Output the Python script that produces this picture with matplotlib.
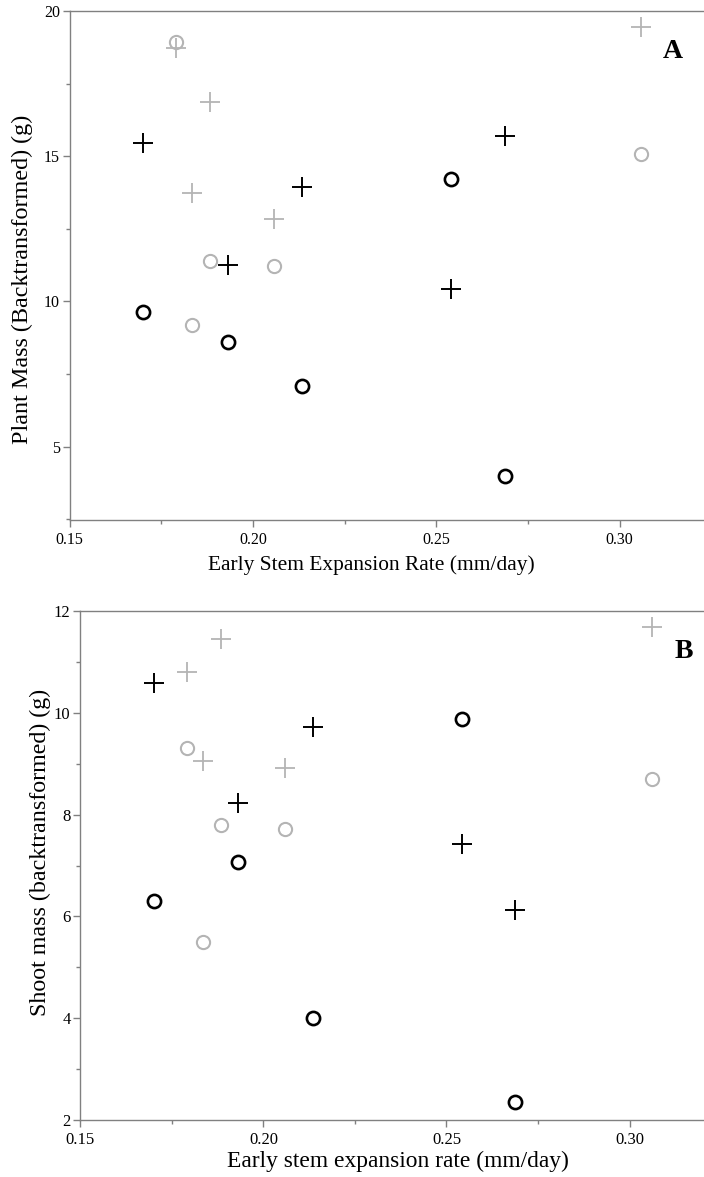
import matplotlib
matplotlib.use("Agg")
import matplotlib.pyplot as plt
from matplotlib.ticker import MultipleLocator

plt.rcParams['font.family'] = ['Liberation Serif', 'DejaVu Serif']

# Panel A data
a_black_x = [0.170, 0.1931, 0.2135, 0.254, 0.2688]
a_black_plus_y = [15.44, 11.24, 13.94, 10.43, 15.69]
a_black_circle_y = [9.63, 8.61, 7.10, 14.2, 3.97]
a_grey_x = [0.179, 0.1834, 0.1884, 0.2057, 0.3058]
a_grey_plus_y = [18.73, 13.73, 16.87, 12.82, 19.44]
a_grey_circle_y = [18.92, 9.17, 11.38, 11.21, 15.07]

# Panel B data
b_black_x = [0.170, 0.1932, 0.2136, 0.2542, 0.2688]
b_black_plus_y = [10.59, 8.22, 9.73, 7.42, 6.12]
b_black_circle_y = [6.31, 7.06, 4.00, 9.87, 2.35]
b_grey_x = [0.1792, 0.1834, 0.1884, 0.206, 0.306]
b_grey_plus_y = [10.80, 9.06, 11.45, 8.91, 11.68]
b_grey_circle_y = [9.30, 5.49, 7.80, 7.72, 8.70]

a_yticks = [5, 10, 15, 20]
b_yticks = [2, 4, 6, 8, 10, 12]
xticks = [0.15, 0.20, 0.25, 0.30]
xtick_labels = ["0.15", "0.20", "0.25", "0.30"]

W, H = 704, 1177
fig = plt.figure(figsize=(W / 100, H / 100), dpi=100)

GREY = "#b4b4b4"
SPINE = "#808080"


def style(ax, xlim, ylim, yticks, ymin_step, lsize):
    ax.set_xlim(*xlim)
    ax.set_ylim(*ylim)
    ax.set_xticks(xticks)
    ax.set_xticklabels(xtick_labels)
    ax.xaxis.set_minor_locator(MultipleLocator(0.025))
    ax.set_yticks(yticks)
    ax.yaxis.set_minor_locator(MultipleLocator(ymin_step))
    for s in ['left', 'bottom', 'top']:
        ax.spines[s].set_color(SPINE)
        ax.spines[s].set_linewidth(1.0)
    ax.spines['right'].set_visible(False)
    ax.tick_params(which='both', direction='out', color=SPINE, width=1.0,
                   labelsize=lsize, pad=2, top=False, right=False)
    ax.tick_params(axis='x', which='major', pad=4)
    ax.tick_params(which='major', length=5)
    ax.tick_params(which='minor', length=3)


def draw(ax, bx, bpy, bcy, gx, gpy, gcy):
    ax.plot(gx, gpy, linestyle='none', marker='+', ms=14.5, mew=1.3, color=GREY, clip_on=False)
    ax.plot(gx, gcy, linestyle='none', marker='o', ms=9.5, mew=1.5, mfc='none', mec=GREY, clip_on=False)
    ax.plot(bx, bpy, linestyle='none', marker='+', ms=14.5, mew=1.4, color='black', clip_on=False)
    ax.plot(bx, bcy, linestyle='none', marker='o', ms=9.5, mew=1.9, mfc='none', mec='black', clip_on=False)


def labels(ax, xl, yl, xsize, ysize, xpos, ypos):
    ax.set_xlabel(xl, fontsize=xsize)
    ax.xaxis.label.set_va('baseline')
    ax.xaxis.set_label_coords(*xpos)
    ax.set_ylabel(yl, fontsize=ysize)
    ax.yaxis.label.set_va('center')
    ax.yaxis.set_label_coords(*ypos)


# Panel A
axA = fig.add_axes([69.7 / W, 1 - 519.7 / H, 1 - 69.7 / W, (519.7 - 11) / H])
style(axA, (0.15, 0.15 + (W - 69.7) * 0.05 / 183.3), (2.48, 20), a_yticks, 2.5, 11.5)
draw(axA, a_black_x, a_black_plus_y, a_black_circle_y, a_grey_x, a_grey_plus_y, a_grey_circle_y)
labels(axA, "Early Stem Expansion Rate (mm/day)", "Plant Mass (Backtransformed) (g)",
       15.4, 17.4, (0.475, -0.0989), (-0.0744, 0.473))
axA.text(0.951, 0.92, "A", transform=axA.transAxes, fontsize=20, fontweight='bold',
         ha='center', va='center')

# Panel B
axB = fig.add_axes([80.3 / W, 1 - 1120 / H, 1 - 80.3 / W, 509 / H])
style(axB, (0.15, 0.15 + (W - 80.3) * 0.05 / 183.1), (2, 12), b_yticks, 1, 12)
draw(axB, b_black_x, b_black_plus_y, b_black_circle_y, b_grey_x, b_grey_plus_y, b_grey_circle_y)
labels(axB, "Early stem expansion rate (mm/day)", "Shoot mass (backtransformed) (g)",
       16.9, 17.3, (0.509, -0.0917), (-0.0646, 0.526))
axB.text(0.968, 0.92, "B", transform=axB.transAxes, fontsize=20, fontweight='bold',
         ha='center', va='center')

fig.savefig("out.png", dpi=100)
